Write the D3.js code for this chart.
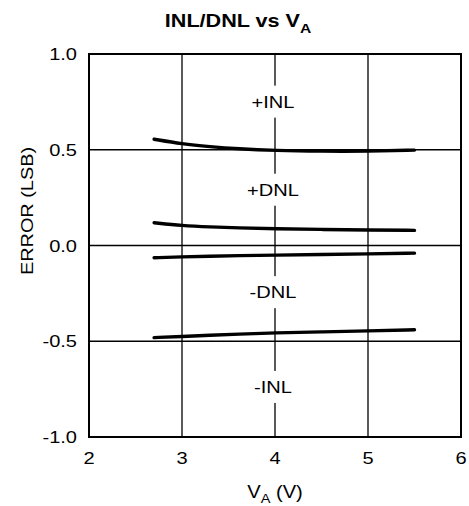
<!DOCTYPE html>
<html>
<head>
<meta charset="utf-8">
<title>INL/DNL vs VA</title>
<script src="https://d3js.org/d3.v7.min.js"></script>
<style>
  body { margin: 0; background: #fff; }
  text { font-family: "Liberation Sans", Arial, sans-serif; fill: #000; }
</style>
</head>
<body>
<script>
// supply voltage points (V)
var volts = [2.7, 3.0, 3.3, 3.6, 4.0, 4.5, 5.0, 5.5];
// error curves (LSB)
var posINL = [0.555, 0.530, 0.516, 0.505, 0.496, 0.492, 0.492, 0.498];
var posDNL = [0.119, 0.104, 0.097, 0.092, 0.087, 0.084, 0.081, 0.079];
var negDNL = [-0.064, -0.059, -0.056, -0.053, -0.050, -0.047, -0.044, -0.040];
var negINL = [-0.481, -0.475, -0.469, -0.463, -0.456, -0.451, -0.446, -0.440];

var xTicks = [2, 3, 4, 5, 6];
var yTicks = [1.0, 0.5, 0.0, -0.5, -1.0];
var labelText = ["+INL", "+DNL", "-DNL", "-INL"];
var labelLevel = [0.72, 0.26, -0.275, -0.77];

var W = 469, H = 506;
var svg = d3.select("body").append("svg")
    .attr("width", W)
    .attr("height", H);

var x = d3.scaleLinear().domain([2, 6]).range([89, 461]);
var y = d3.scaleLinear().domain([-1, 1]).range([437, 54]);

// text in the original is a little wider than Arial
function place(sel, tx, ty, sx, rot) {
  sel.attr("transform", "translate(" + tx + "," + ty + ")" +
    (rot ? " rotate(" + rot + ")" : "") + " scale(" + sx + ",1)");
  return sel;
}

// grid
svg.append("g").selectAll("line.vx")
  .data(xTicks.slice(1, -1)).enter().append("line")
  .attr("x1", d => x(d)).attr("x2", d => x(d))
  .attr("y1", y(1)).attr("y2", y(-1))
  .attr("stroke", "#000").attr("stroke-width", 1.3);
svg.append("g").selectAll("line.hy")
  .data(yTicks.slice(1, -1)).enter().append("line")
  .attr("x1", x(2)).attr("x2", x(6))
  .attr("y1", d => y(d)).attr("y2", d => y(d))
  .attr("stroke", "#000").attr("stroke-width", 1.3);

// curve labels with white boxes over the grid
var lab = svg.append("g").selectAll("g")
  .data(labelText).enter().append("g");
lab.append("rect")
  .attr("x", x(4) - 2 - 28)
  .attr("y", (d, i) => y(labelLevel[i]) - 22)
  .attr("width", 56).attr("height", 32)
  .attr("fill", "#fff");
lab.append("text")
  .attr("text-anchor", "middle")
  .style("font-size", "17px")
  .text(d => d)
  .each(function(d, i) {
    place(d3.select(this), x(4) - 2, y(labelLevel[i]), 1.18);
  });

// frame
svg.append("rect")
  .attr("x", x(2)).attr("y", y(1))
  .attr("width", x(6) - x(2)).attr("height", y(-1) - y(1))
  .attr("fill", "none").attr("stroke", "#000").attr("stroke-width", 2);

// curves
var line = d3.line()
  .x((d, i) => x(volts[i]))
  .y(d => y(d))
  .curve(d3.curveBasis);
svg.append("g").selectAll("path")
  .data([posINL, posDNL, negDNL, negINL]).enter().append("path")
  .attr("d", line)
  .attr("fill", "none")
  .attr("stroke", "#000")
  .attr("stroke-width", 3.4)
  .attr("stroke-linecap", "round");

// tick labels
svg.append("g").selectAll("text")
  .data(yTicks).enter().append("text")
  .attr("text-anchor", "end")
  .style("font-size", "17px")
  .text(d => d3.format(".1f")(d).replace("−", "-"))
  .each(function(d) { place(d3.select(this), 77, y(d) + 6, 1.18); });

svg.append("g").selectAll("text")
  .data(xTicks).enter().append("text")
  .attr("text-anchor", "middle")
  .style("font-size", "17px")
  .text(d => d)
  .each(function(d) { place(d3.select(this), x(d), 464, 1.18); });

// axis titles
var yl = svg.append("text")
  .attr("text-anchor", "middle")
  .style("font-size", "17px")
  .text("ERROR (LSB)");
place(yl, 33, 211, 1.17, -90);

var xl = svg.append("text")
  .attr("text-anchor", "middle")
  .style("font-size", "18px");
xl.append("tspan").text("V");
xl.append("tspan").attr("dy", 5).style("font-size", "13px").text("A");
xl.append("tspan").attr("dy", -5).text(" (V)");
place(xl, 275, 498, 1.12);

var tl = svg.append("text")
  .attr("text-anchor", "middle")
  .style("font-size", "18px")
  .style("font-weight", "bold");
tl.append("tspan").text("INL/DNL vs V");
tl.append("tspan").attr("dy", 6).style("font-size", "13px").text("A");
place(tl, 238, 27, 1.2);
</script>
</body>
</html>
